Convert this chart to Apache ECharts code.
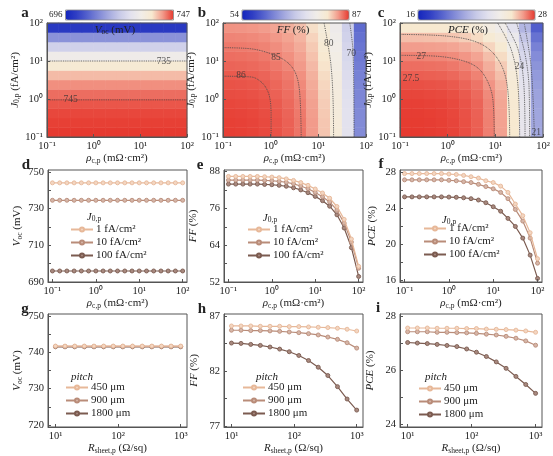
<!DOCTYPE html>
<html><head><meta charset="utf-8">
<script src="https://cdn.jsdelivr.net/npm/echarts@6/dist/echarts.min.js"></script>
<style>html,body{margin:0;padding:0;background:#fff}#c{width:553px;height:456px}</style>
</head><body><div id="c"></div>
<script>
// ---------------- data ----------------
// heatmap band centres (log10), 12 bands across the 3 decades
const heatLogCentres = ['-0.875','-0.625','-0.375','-0.125','0.125','0.375','0.625','0.875','1.125','1.375','1.625','1.875'];
// rows: J0,p bands bottom -> top ; columns: rho_c,p bands left -> right
const vocGrid = [
 [747,747,747,747,747,747,747,747,747,747,747,747],
 [746.7,746.7,746.7,746.7,746.7,746.7,746.7,746.7,746.7,746.7,746.7,746.7],
 [746.3,746.3,746.3,746.3,746.3,746.3,746.3,746.3,746.3,746.3,746.3,746.3],
 [745.5,745.5,745.5,745.5,745.5,745.5,745.5,745.5,745.5,745.5,745.5,745.5],
 [744.3,744.3,744.3,744.3,744.3,744.3,744.3,744.3,744.3,744.3,744.3,744.3],
 [742.5,742.5,742.5,742.5,742.5,742.5,742.5,742.5,742.5,742.5,742.5,742.5],
 [739.8,739.8,739.8,739.8,739.8,739.8,739.8,739.8,739.8,739.8,739.8,739.8],
 [736,736,736,736,736,736,736,736,736,736,736,736],
 [731,731,731,731,731,731,731,731,731,731,731,731],
 [723,723,723,723,723,723,723,723,723,723,723,723],
 [713,713,713,713,713,713,713,713,713,713,713,713],
 [700,700,700,700,700,700,700,700,700,700,700,700]
];
const ffGrid = [
 [86.85,86.8,86.7,86.5,86.15,85.7,85.0,83.7,81.9,79.1,74.1,64.4],
 [86.8,86.75,86.65,86.45,86.1,85.65,84.95,83.65,81.85,79.05,74.05,64.35],
 [86.7,86.65,86.55,86.35,86.0,85.55,84.85,83.55,81.75,78.95,73.95,64.25],
 [86.55,86.5,86.4,86.2,85.85,85.4,84.7,83.4,81.6,78.8,73.8,64.1],
 [86.35,86.3,86.2,86.0,85.65,85.2,84.5,83.2,81.4,78.6,73.6,63.9],
 [86.15,86.1,86.0,85.8,85.45,85.0,84.3,83.0,81.2,78.4,73.4,63.7],
 [85.9,85.85,85.75,85.55,85.2,84.75,84.05,82.75,80.95,78.15,73.15,63.45],
 [85.55,85.5,85.4,85.2,84.85,84.4,83.7,82.4,80.6,77.8,72.8,63.1],
 [85.2,85.15,85.05,84.85,84.5,84.05,83.35,82.05,80.25,77.45,72.45,62.75],
 [84.85,84.8,84.7,84.5,84.15,83.7,83.0,81.7,79.9,77.1,72.1,62.4],
 [84.45,84.4,84.3,84.1,83.75,83.3,82.6,81.3,79.5,76.7,71.7,62.0],
 [83.95,83.9,83.8,83.6,83.25,82.8,82.1,80.8,79.0,76.2,71.2,61.5]
];
const pceGrid = [
 [28.0,28.0,27.98,27.95,27.88,27.75,27.55,27.15,26.7,25.6,23.65,20.7],
 [27.98,27.98,27.96,27.93,27.86,27.73,27.53,27.13,26.68,25.58,23.63,20.68],
 [27.96,27.96,27.94,27.91,27.84,27.71,27.51,27.11,26.66,25.56,23.61,20.66],
 [27.92,27.92,27.9,27.87,27.8,27.67,27.47,27.07,26.62,25.52,23.57,20.62],
 [27.85,27.85,27.83,27.8,27.73,27.6,27.4,27.0,26.55,25.45,23.5,20.55],
 [27.72,27.72,27.7,27.67,27.6,27.47,27.27,26.87,26.42,25.32,23.37,20.42],
 [27.55,27.55,27.53,27.5,27.43,27.3,27.1,26.7,26.25,25.15,23.2,20.25],
 [27.35,27.35,27.33,27.3,27.23,27.1,26.9,26.5,26.05,24.95,23.0,20.05],
 [27.1,27.1,27.08,27.05,26.98,26.85,26.65,26.25,25.8,24.7,22.75,19.8],
 [26.75,26.75,26.73,26.7,26.63,26.5,26.3,25.9,25.45,24.35,22.4,19.45],
 [26.25,26.25,26.23,26.2,26.13,26.0,25.8,25.4,24.95,23.85,21.9,18.95],
 [25.6,25.6,25.58,25.55,25.48,25.35,25.15,24.75,24.3,23.2,21.25,18.3]
];
const vocRange = [696, 747], ffRange = [54, 87], pceRange = [16, 28];

// contour lines [rho, J]
const vocC735 = [[0.1,10],[100,10]];
const vocC745 = [[0.1,0.95],[100,0.95]];
const ffC86 = [[0.1,3.98],[0.39,3.8],[0.63,2.82],[0.85,1.7],[0.98,0.91],[1.02,0.34],[1.02,0.1]];
const ffC85 = [[0.1,22.4],[0.39,20.9],[1.02,15.5],[1.95,10.5],[2.95,6.3],[3.72,3.09],[4.17,0.91],[4.37,0.1]];
const ffC80 = [[13.2,100],[15.8,28.8],[18.6,6.9],[20.4,0.91],[20.9,0.1]];
const ffC70 = [[45.7,100],[53.7,15.8],[56.2,0.1]];
const pceC27 = [[0.1,14.1],[0.52,13.5],[1.9,10.5],[4.27,6.6],[6.9,2.88],[8.9,0.95],[9.5,0.1]];
const pceC26 = [[0.1,50],[1,45],[5,28],[12,10],[18,2],[20,0.1]];
const pceC24 = [[11.2,100],[21.4,20.4],[29.5,2.63],[32.4,0.1]];
const pceC23 = [[16,100],[30,20],[40,2],[42,0.1]];
const pceC22 = [[28,100],[42,15],[51,2],[52.5,0.1]];
const pceC21 = [[40.7,93],[56.2,7.2],[66,0.1]];
// contour labels [rho, J, text]
const vocLabels = [[32,10,'735'],[0.32,0.95,'745']];
const ffLabels = [[0.24,4.2,'86'],[1.3,12.3,'85'],[16.6,28.8,'80'],[49,15.5,'70']];
const pceLabels = [[0.28,12.9,'27'],[0.17,3.5,'27.5'],[32,7.3,'24'],[72,0.13,'21']];

// line panels d, e, f
const rhoPoints = [0.1,0.147,0.215,0.316,0.464,0.681,1,1.47,2.15,3.16,4.64,6.81,10,14.7,21.5,31.6,46.4,68.1,100];
const vocJ1   = [744,744,744,744,744,744,744,744,744,744,744,744,744,744,744,744,744,744,744];
const vocJ10  = [734.5,734.5,734.5,734.5,734.5,734.5,734.5,734.5,734.5,734.5,734.5,734.5,734.5,734.5,734.5,734.5,734.5,734.5,734.5];
const vocJ100 = [696,696,696,696,696,696,696,696,696,696,696,696,696,696,696,696,696,696,696];
const ffJ1   = [86.4,86.4,86.4,86.4,86.4,86.3,86.2,86.0,85.6,85.1,84.4,83.5,82.3,81.0,79.3,76.6,72.4,66.0,57.1];
const ffJ10  = [85.2,85.2,85.2,85.2,85.2,85.1,85.0,84.8,84.5,84.0,83.3,82.4,81.2,79.8,78.1,75.4,71.2,65.0,56.5];
const ffJ100 = [83.9,83.9,83.9,83.9,83.9,83.8,83.7,83.5,83.2,82.7,82.0,81.1,79.9,78.5,76.7,73.9,69.6,63.2,53.8];
const pceJ1   = [27.9,27.9,27.9,27.9,27.9,27.9,27.85,27.8,27.7,27.55,27.4,27.1,26.9,26.5,25.8,24.5,23.2,21.3,18.4];
const pceJ10  = [27.2,27.2,27.2,27.2,27.2,27.2,27.15,27.1,27.0,26.9,26.7,26.45,26.2,25.8,25.1,23.9,22.6,20.7,17.9];
const pceJ100 = [25.3,25.3,25.3,25.3,25.3,25.3,25.28,25.25,25.2,25.1,24.95,24.65,24.2,23.7,22.9,22.0,20.7,18.8,16.2];
const jNames = ['1 fA/cm²','10 fA/cm²','100 fA/cm²'];

// line panels g, h, i
const rsheetPoints = [10,14.2,20.3,28.9,41.2,58.8,83.7,119,170,243,346,493,702,1000];
const vocP450  = [741.7,741.7,741.7,741.7,741.7,741.7,741.7,741.7,741.7,741.7,741.7,741.7,741.7,741.7];
const vocP900  = [741.6,741.6,741.6,741.6,741.6,741.6,741.6,741.6,741.6,741.6,741.6,741.6,741.6,741.6];
const vocP1800 = [741.5,741.5,741.5,741.5,741.5,741.5,741.5,741.5,741.5,741.5,741.5,741.5,741.5,741.5];
const ffP450  = [86.11,86.11,86.11,86.08,86.08,86.08,86.05,86.05,86.02,85.99,85.96,85.9,85.81,85.65];
const ffP900  = [85.72,85.72,85.69,85.69,85.66,85.62,85.56,85.5,85.41,85.29,85.1,84.89,84.58,84.09];
const ffP1800 = [84.55,84.52,84.43,84.34,84.19,84.0,83.76,83.42,82.96,82.35,81.59,80.58,79.45,78.44];
const pceP450  = [27.58,27.58,27.58,27.57,27.57,27.57,27.56,27.56,27.54,27.53,27.52,27.5,27.47,27.42];
const pceP900  = [27.44,27.44,27.44,27.42,27.42,27.41,27.4,27.38,27.35,27.32,27.27,27.2,27.1,26.94];
const pceP1800 = [27.04,27.02,27.0,26.97,26.93,26.89,26.8,26.68,26.52,26.32,26.08,25.78,25.48,25.15];
const pNames = ['450 μm','900 μm','1800 μm'];

// tick labels
const logTicks3 = [0.1,1,10,100];
const logTicksR = [10,100,1000];
const vocTicksD = [690,710,730,750], vocMinorD = [690,700,710,720,730,740,750];
const ffTicksE = [52,64,76,88], ffMinorE = [52,58,64,70,76,82,88];
const pceTicksF = [16,20,24,28], pceMinorF = [16,18,20,22,24,26,28];
const vocTicksG = [720,730,740,750], vocMinorG = [720,725,730,735,740,745,750];
const ffTicksH = [77,82,87], ffMinorH = [77,79.5,82,84.5,87];
const pceTicksI = [24,26,28], pceMinorI = [24,25,26,27,28];

// ---------------- styling ----------------
const FONT = 'Liberation Serif';
const TXT = '#222';
const AXC = '#555';
const lineCols = ['#e7b899','#b98c79','#7b5b50'];
const fillCols = ['#f3d6c2','#d6b6a8','#a8897f'];
const heatPalette = ['#1426bd','#2f3ec4','#5461cd','#7d86d6','#a5aadf','#c8cae8','#e2e1ee','#f1ede8','#f7e9d0','#f29a8a','#e63a30'];
const SUP = {'-':'⁻','0':'⁰','1':'¹','2':'²','3':'³'};
function pow10(v){const l=Math.log10(v);const r=Math.round(l);if(Math.abs(l-r)>1e-6)return '';return '10'+String(r).split('').map(c=>SUP[c]).join('');}
const richSub = {
  i:{fontStyle:'italic',fontFamily:FONT,fontSize:11,color:TXT},
  s:{fontSize:7.5,fontFamily:FONT,color:TXT,verticalAlign:'bottom',padding:[5,0,0,0]},
  n:{fontSize:11,fontFamily:FONT,color:TXT}
};

const P = {
 a:{left:47,top:23,width:140,height:114},
 b:{left:223,top:23,width:143,height:114},
 c:{left:400,top:23,width:143,height:114},
 d:{left:48,top:170,width:139,height:112},
 e:{left:224,top:170,width:139,height:112},
 f:{left:400,top:170,width:142,height:112},
 g:{left:48,top:314,width:139,height:113},
 h:{left:224,top:314,width:139,height:113},
 i:{left:400,top:314,width:142,height:113}
};

const grids=[], xAxes=[], yAxes=[], series=[], visualMaps=[], legends=[], graphics=[];

function gridOf(p, frame){
  grids.push(Object.assign({containLabel:false, show:!!frame, borderColor:AXC, borderWidth:1, backgroundColor:'transparent', z:5}, p));
  return grids.length-1;
}
const labelStyle = {fontFamily:FONT,fontSize:10.5,color:TXT,margin:4};
function logAxis(gi, min, max, ticks, name, gap, isY){
  return {type:'log', logBase:10, gridIndex:gi, min, max, z:6,
    axisLine:{show:true,onZero:false,lineStyle:{color:AXC,width:1}},
    axisTick:{show:true,inside:true,length:3,customValues:ticks,lineStyle:{color:AXC}},
    axisLabel:Object.assign({formatter:pow10,customValues:ticks},labelStyle),
    splitLine:{show:false}, minorTick:{show:false},
    name, nameLocation:'middle', nameGap:gap, nameRotate:isY?90:0,
    nameTextStyle:{rich:richSub,fontFamily:FONT,fontSize:11,color:TXT}};
}
function valAxis(gi, min, max, ticks, minor, name, gap){
  return {type:'value', gridIndex:gi, min, max, z:6,
    axisLine:{show:true,onZero:false,lineStyle:{color:AXC,width:1}},
    axisTick:{show:true,inside:true,length:3,customValues:minor,lineStyle:{color:AXC}},
    axisLabel:Object.assign({customValues:ticks},labelStyle),
    splitLine:{show:false},
    name, nameLocation:'middle', nameGap:gap, nameRotate:90,
    nameTextStyle:{rich:richSub,fontFamily:FONT,fontSize:11,color:TXT}};
}
const rhoName = '{i|ρ}{s|c,p} {n|(mΩ·cm²)}';
const jName = '{i|J}{s|0,p} {n|(fA/cm²)}';
const rsName = '{i|R}{s|sheet,p} {n|(Ω/sq)}';

function heatPanel(p, grid, contours, labels, yGap){
  const gc = gridOf(p,false);
  xAxes.push({type:'category',gridIndex:gc,data:heatLogCentres,show:false});
  yAxes.push({type:'category',gridIndex:gc,data:heatLogCentres,show:false});
  const data=[];
  grid.forEach((row,r)=>row.forEach((v,c)=>data.push([c,r,v])));
  series.push({type:'heatmap',xAxisIndex:gc,yAxisIndex:gc,data,progressive:0,silent:true,
    itemStyle:{borderWidth:0},emphasis:{disabled:true},z:2});
  const hs = series.length-1;
  const gl = gridOf(p,true);
  xAxes.push(logAxis(gl,0.1,100,logTicks3,rhoName,13,false));
  yAxes.push(logAxis(gl,0.1,100,logTicks3,jName,yGap,true));
  contours.forEach(cd=>series.push({type:'line',xAxisIndex:gl,yAxisIndex:gl,data:cd,symbol:'none',smooth:0.35,silent:true,z:4,
    lineStyle:{type:'dotted',color:'#4a4a4a',width:0.9}}));
  series.push({type:'scatter',xAxisIndex:gl,yAxisIndex:gl,data:labels,symbolSize:1,silent:true,z:5,
    itemStyle:{color:'transparent'},
    label:{show:true,position:'inside',formatter:q=>q.data[2],fontFamily:FONT,fontSize:9.5,color:'#333'}});
  return hs;
}

const ha = heatPanel(P.a, vocGrid, [vocC735,vocC745], vocLabels, 25);
const hb = heatPanel(P.b, ffGrid, [ffC86,ffC85,ffC80,ffC70], ffLabels, 25);
const hc = heatPanel(P.c, pceGrid, [pceC27,pceC26,pceC24,pceC23,pceC22,pceC21], pceLabels, 25);

function vm(si, range, left, len){
  visualMaps.push({type:'continuous',seriesIndex:si,min:range[0],max:range[1],orient:'horizontal',
    left, top:10, itemWidth:10, itemHeight:len, text:[String(range[1]),String(range[0])], textGap:3,
    calculable:false, realtime:false, padding:0, hoverLink:false,
    inRange:{color:heatPalette}, textStyle:{fontFamily:FONT,fontSize:9,color:TXT}});
}
vm(ha, vocRange, 49, 108);
vm(hb, ffRange, 230, 107);
vm(hc, pceRange, 406, 117);

function linePanel(p, xs, xmin, xmax, xt, xname, arrs, names, ymin, ymax, yt, ym, yname, ygap){
  const gi = gridOf(p,true);
  xAxes.push(logAxis(gi,xmin,xmax,xt,xname,13,false));
  yAxes.push(valAxis(gi,ymin,ymax,yt,ym,yname,ygap));
  arrs.forEach((arr,k)=>series.push({type:'line',name:names[k],xAxisIndex:gi,yAxisIndex:gi,
    data:xs.map((x,i)=>[x,arr[i]]),symbol:'circle',symbolSize:4,z:3+(2-k),
    lineStyle:{color:lineCols[k],width:1.2},
    itemStyle:{color:fillCols[k],borderColor:lineCols[k],borderWidth:0.9}}));
}
const vocName = '{i|V}{s|oc} {n|(mV)}';
const ffName = '{i|FF} {n|(%)}';
const pceName = '{i|PCE} {n|(%)}';
linePanel(P.d, rhoPoints, 0.079, 126, logTicks3, rhoName, [vocJ1,vocJ10,vocJ100], jNames, 690, 751, vocTicksD, vocMinorD, vocName, 24);
linePanel(P.e, rhoPoints, 0.079, 126, logTicks3, rhoName, [ffJ1,ffJ10,ffJ100], jNames, 52, 88.5, ffTicksE, ffMinorE, ffName, 25);
linePanel(P.f, rhoPoints, 0.079, 126, logTicks3, rhoName, [pceJ1,pceJ10,pceJ100], jNames, 15.8, 28.3, pceTicksF, pceMinorF, pceName, 22);
linePanel(P.g, rsheetPoints, 7.6, 1260, logTicksR, rsName, [vocP450,vocP900,vocP1800], pNames, 719.5, 750.5, vocTicksG, vocMinorG, vocName, 24);
linePanel(P.h, rsheetPoints, 7.6, 1260, logTicksR, rsName, [ffP450,ffP900,ffP1800], pNames, 76.9, 87.2, ffTicksH, ffMinorH, ffName, 24);
linePanel(P.i, rsheetPoints, 7.6, 1260, logTicksR, rsName, [pceP450,pceP900,pceP1800], pNames, 23.9, 28.1, pceTicksI, pceMinorI, pceName, 24);

function leg(left, top, names){
  legends.push({left, top, orient:'vertical', padding:0, itemGap:2, itemWidth:22, itemHeight:5,
    selectedMode:false, data:names, textStyle:{fontFamily:FONT,fontSize:11,color:TXT,padding:[0,0,0,-2]}});
}
leg(70,224,jNames); leg(247,224,jNames); leg(423,223,jNames);
leg(65,382,pNames); leg(242,382,pNames); leg(418,383,pNames);

function txt(x,y,text,rich,extra){
  graphics.push({type:'text',x,y,z:20,style:Object.assign({text,rich,fill:TXT,font:'11px '+FONT,align:'center',verticalAlign:'middle'},extra||{})});
}
const letterStyle={font:'bold 15px '+FONT};
[['a',25,13],['b',202,13],['c',381,13],['d',26,165],['e',200,165],['f',381,164],['g',25,309],['h',202,309],['i',378,308]]
  .forEach(l=>txt(l[1],l[2],l[0],null,letterStyle));
txt(115,30,'{i|V}{s|oc} {n|(mV)}',richSub);
txt(293,30,'{i|FF} {n|(%)}',richSub);
txt(468,30,'{i|PCE} {n|(%)}',richSub);
txt(94,217,'{i|J}{s|0,p}',richSub);
txt(270,218,'{i|J}{s|0,p}',richSub);
txt(449,220,'{i|J}{s|0,p}',richSub);
txt(82,377,'{i|pitch}',richSub);
txt(267,377,'{i|pitch}',richSub);
txt(436,377,'{i|pitch}',richSub);
// colour-bar frames
[[65.5,108],[242,107],[418,117]].forEach(b=>graphics.push({type:'rect',z:20,silent:true,
  shape:{x:b[0],y:10,width:b[1],height:10},style:{fill:'none',stroke:'#888',lineWidth:0.8}}));

const chart = echarts.init(document.getElementById('c'));
chart.setOption({
  animation:false,
  textStyle:{fontFamily:FONT},
  grid:grids, xAxis:xAxes, yAxis:yAxes, series, visualMap:visualMaps, legend:legends, graphic:graphics
});
</script></body></html>
